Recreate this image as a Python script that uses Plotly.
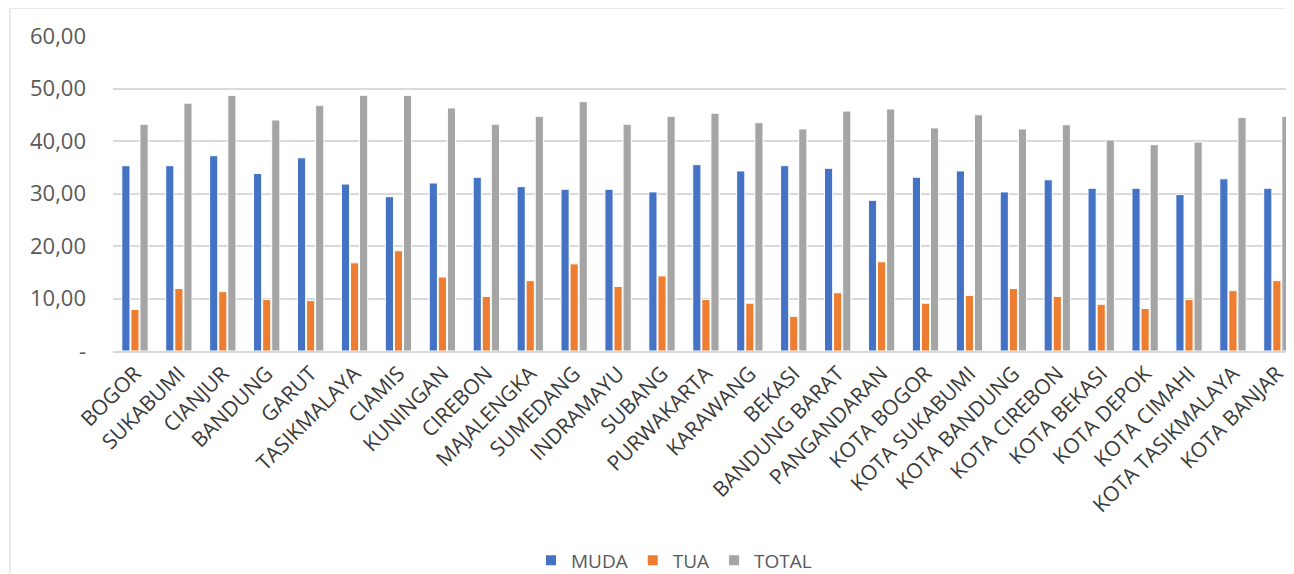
import plotly.graph_objects as go

categories = ["BOGOR", "SUKABUMI", "CIANJUR", "BANDUNG", "GARUT", "TASIKMALAYA", "CIAMIS",
              "KUNINGAN", "CIREBON", "MAJALENGKA", "SUMEDANG", "INDRAMAYU", "SUBANG",
              "PURWAKARTA", "KARAWANG", "BEKASI", "BANDUNG BARAT", "PANGANDARAN",
              "KOTA BOGOR", "KOTA SUKABUMI", "KOTA BANDUNG", "KOTA CIREBON", "KOTA BEKASI",
              "KOTA DEPOK", "KOTA CIMAHI", "KOTA TASIKMALAYA", "KOTA BANJAR"]

muda = [35.3, 35.3, 37.2, 33.8, 36.8, 31.8, 29.4, 32.0, 33.1, 31.3, 30.8, 30.8, 30.3,
        35.5, 34.3, 35.3, 34.8, 28.7, 33.1, 34.3, 30.3, 32.6, 31.0, 31.0, 29.8, 32.8, 31.0]
tua = [7.9, 11.9, 11.3, 9.8, 9.6, 16.8, 19.1, 14.1, 10.4, 13.4, 16.6, 12.3, 14.3,
       9.8, 9.1, 6.6, 11.1, 17.0, 9.1, 10.6, 11.9, 10.4, 8.9, 8.1, 9.8, 11.5, 13.4]
total = [43.2, 47.2, 48.7, 44.0, 46.8, 48.7, 48.7, 46.3, 43.2, 44.7, 47.5, 43.2, 44.7,
         45.3, 43.5, 42.3, 45.7, 46.1, 42.5, 45.0, 42.3, 43.1, 40.2, 39.3, 39.8, 44.5, 44.7]

tick_vals = [0, 10, 20, 30, 40, 50, 60]
tick_text = ["-", "10,00", "20,00", "30,00", "40,00", "50,00", "60,00"]

series = [("MUDA", muda, "#4472C4"), ("TUA", tua, "#ED7D31"), ("TOTAL", total, "#A5A5A5")]

fig = go.Figure()
for name, vals, col in series:
    fig.add_trace(go.Bar(x=categories, y=vals, name=name,
                         marker=dict(color=col, line=dict(color="white", width=1))))

fig.update_layout(
    width=1286, height=566,
    margin=dict(l=105, r=0, t=28, b=223, autoexpand=False),
    paper_bgcolor="white", plot_bgcolor="white",
    barmode="group", bargap=0.38, bargroupgap=0.1,
    font=dict(family="Open Sans, Segoe UI, sans-serif", color="#595959"),
    showlegend=True,
    legend=dict(orientation="h", x=0.475, xanchor="center", y=-0.665, yanchor="middle",
                font=dict(size=19, color="#595959"), itemsizing="constant",
                itemwidth=30, tracegroupgap=0, traceorder="normal"),
    shapes=[dict(type="rect", xref="paper", yref="paper",
                 x0=(10 - 113) / 1181, x1=1.05, y0=-0.9, y1=(351.3 - 8) / 315.3,
                 line=dict(color="#E3E3E3", width=1.5), fillcolor="rgba(0,0,0,0)", layer="below")],
)
fig.update_xaxes(range=[-0.5, 26.39], tickangle=-45, showgrid=False, showline=True,
                 linecolor="#D9D9D9", linewidth=2, ticks="", automargin=False,
                 tickfont=dict(size=21, color="#3A3A3A"))
fig.update_yaxes(range=[0, 60], tickvals=tick_vals, ticktext=tick_text, showgrid=True,
                 gridcolor="#D9D9D9", gridwidth=1.5, zeroline=False, ticks="", automargin=False,
                 ticklabelstandoff=26, tickfont=dict(size=22, color="#595959"))

fig.write_html("out.html")
